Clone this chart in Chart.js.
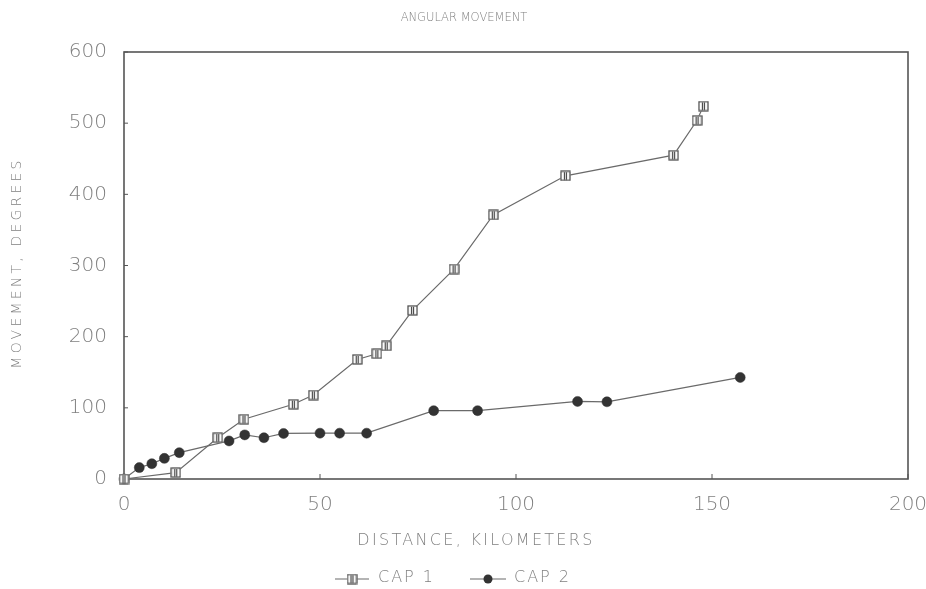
<!DOCTYPE html>
<html>
<head>
<meta charset="utf-8">
<script src="https://cdn.jsdelivr.net/npm/chart.js@4/dist/chart.umd.min.js"></script>
<style>
  html, body { margin: 0; padding: 0; background: #fff; }
  #wrap { width: 926px; height: 589px; }
</style>
</head>
<body>
<div id="wrap"><canvas id="chart" width="926" height="589"></canvas></div>
<script>
/* ── Données ────────────────────────────────────────────────── */
const cap1Dist = [0, 13.2, 23.9, 30.6, 43.2, 48.3, 59.5, 64.5, 66.9, 73.6, 84.2, 94.2, 112.6, 140.2, 146.2, 147.8];
const cap1Move = [0, 9, 58, 84, 105, 118, 168, 176, 187, 237, 295, 371, 426, 455, 504, 524];

const cap2Dist = [0, 3.9, 7.1, 10.3, 14.1, 26.8, 30.8, 35.7, 40.7, 50, 55, 61.9, 79, 90.2, 115.7, 123.2, 157.2];
const cap2Move = [0, 16, 21.5, 29, 37, 53.5, 62, 58, 64, 64.4, 64.4, 64.4, 96, 96, 109, 108.5, 142.7];

const xTicks = [0, 50, 100, 150, 200];
const yTicks = [0, 100, 200, 300, 400, 500, 600];

const seriesNames = ['CAP 1', 'CAP 2'];
const chartTitle  = 'ANGULAR MOVEMENT';
const xTitle      = 'DISTANCE, KILOMETERS';
const yTitle      = 'MOVEMENT, DEGREES';

/* ── Styles ─────────────────────────────────────────────────── */
const INK   = '#555';
const TEXT  = '#808080';
const FONT  = '"DejaVu Sans", sans-serif';

// marqueur carré avec deux traits verticaux (CAP 1)
function squareMarker() {
  const c = document.createElement('canvas');
  c.width = 11; c.height = 11;
  const g = c.getContext('2d');
  g.fillStyle = '#fff';
  g.fillRect(0.5, 0.5, 10, 10);
  g.strokeStyle = '#444';
  g.lineWidth = 1.2;
  g.strokeRect(1, 1, 9, 9);
  g.beginPath();
  g.moveTo(4.5, 2); g.lineTo(4.5, 9.5);
  g.moveTo(6.5, 2); g.lineTo(6.5, 9.5);
  g.stroke();
  return c;
}
const cap1Marker = squareMarker();

const toXY = (xs, ys) => xs.map((x, i) => ({ x, y: ys[i] }));

/* ── Plugin : cadre, graduations internes, titres, légende ─── */
const decorPlugin = {
  id: 'decor',
  beforeDatasetsDraw(chart) {
    const { ctx, chartArea: a, scales } = chart;
    ctx.save();
    ctx.strokeStyle = INK;
    ctx.lineWidth = 1.6;
    ctx.strokeRect(a.left, a.top, a.right - a.left, a.bottom - a.top);
    ctx.lineWidth = 1;
    ctx.beginPath();
    yTicks.forEach(v => {
      const y = scales.y.getPixelForValue(v);
      ctx.moveTo(a.left, y); ctx.lineTo(a.left + 4, y);
    });
    xTicks.forEach(v => {
      const x = scales.x.getPixelForValue(v);
      ctx.moveTo(x, a.bottom); ctx.lineTo(x, a.bottom - 5);
    });
    ctx.stroke();
    ctx.restore();
  },
  afterDraw(chart) {
    const { ctx } = chart;
    ctx.save();
    ctx.fillStyle = TEXT;
    ctx.textBaseline = 'middle';
    ctx.textAlign = 'center';

    ctx.font = `200 11.5px ${FONT}`;
    ctx.letterSpacing = '0px';
    ctx.fillText(chartTitle, 464, 18);

    ctx.font = `200 16px ${FONT}`;
    ctx.letterSpacing = '2.3px';
    ctx.fillText(xTitle, 476, 541);

    ctx.save();
    ctx.translate(17, 263);
    ctx.rotate(-Math.PI / 2);
    ctx.font = `200 14px ${FONT}`;
    ctx.letterSpacing = '3.2px';
    ctx.fillText(yTitle, 0, 0);
    ctx.restore();

    // légende
    const ly = 579;
    const items = [
      { x0: 335, x1: 369, tx: 378 },
      { x0: 470, x1: 506, tx: 514 },
    ];
    items.forEach((it, i) => {
      const ds = chart.data.datasets[i];
      ctx.strokeStyle = ds.borderColor;
      ctx.lineWidth = 1.2;
      ctx.beginPath();
      ctx.moveTo(it.x0, ly); ctx.lineTo(it.x1, ly);
      ctx.stroke();
      const mx = (it.x0 + it.x1) / 2;
      if (i === 0) {
        ctx.drawImage(cap1Marker, mx - 5.5, ly - 5.5);
      } else {
        ctx.fillStyle = ds.pointBackgroundColor;
        ctx.beginPath(); ctx.arc(mx, ly, 4.5, 0, Math.PI * 2); ctx.fill();
      }
      ctx.fillStyle = TEXT;
      ctx.textAlign = 'left';
      ctx.font = `200 16px ${FONT}`;
      ctx.letterSpacing = '2px';
      ctx.fillText(seriesNames[i], it.tx, ly - 1);
    });
    ctx.restore();
  },
};

/* ── Chart ──────────────────────────────────────────────────── */
new Chart(document.getElementById('chart'), {
  type: 'line',
  data: {
    datasets: [
      {
        label: seriesNames[0],
        data: toXY(cap1Dist, cap1Move),
        borderColor: '#6a6a6a',
        borderWidth: 1.2,
        pointStyle: cap1Marker,
        pointRadius: 5,
        tension: 0,
        clip: false,
      },
      {
        label: seriesNames[1],
        data: toXY(cap2Dist, cap2Move),
        borderColor: '#6a6a6a',
        borderWidth: 1.2,
        pointStyle: 'circle',
        pointRadius: 5,
        pointBackgroundColor: '#333',
        pointBorderColor: '#333',
        pointBorderWidth: 0.5,
        tension: 0,
        clip: false,
      },
    ],
  },
  options: {
    responsive: false,
    animation: false,
    layout: { padding: { left: 64, top: 52, right: 18, bottom: 60 } },
    plugins: {
      legend: { display: false },
      title:  { display: false },
      tooltip: { enabled: false },
    },
    scales: {
      x: {
        type: 'linear',
        min: 0, max: 200,
        afterBuildTicks: s => { s.ticks = xTicks.map(v => ({ value: v })); },
        afterFit: s => { s.height = 50; s.paddingLeft = 0; s.paddingRight = 0; },
        grid: { display: false, drawTicks: false },
        border: { display: false },
        ticks: { padding: 14, color: TEXT, font: { family: FONT, size: 20, weight: 200 } },
      },
      y: {
        type: 'linear',
        min: 0, max: 600,
        afterBuildTicks: s => { s.ticks = yTicks.map(v => ({ value: v })); },
        afterFit: s => { s.width = 60; s.paddingTop = 0; s.paddingBottom = 0; },
        grid: { display: false, drawTicks: false },
        border: { display: false },
        ticks: { padding: 17, color: TEXT, font: { family: FONT, size: 20, weight: 200 } },
      },
    },
  },
  plugins: [decorPlugin],
});
</script>
</body>
</html>
